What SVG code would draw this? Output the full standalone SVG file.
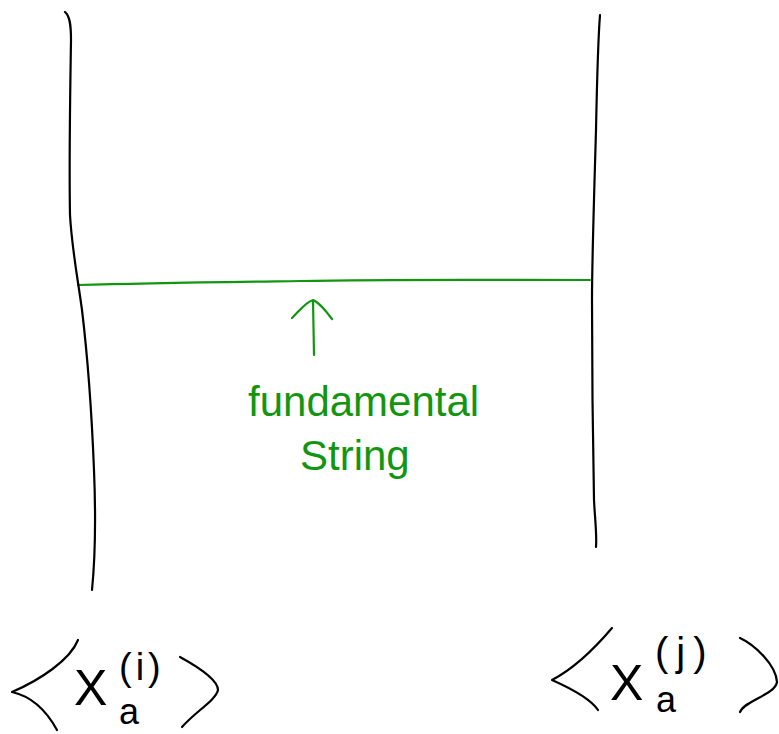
<svg xmlns="http://www.w3.org/2000/svg" width="779" height="734" viewBox="0 0 779 734">
<style>
.ink{fill:none;stroke:#000;stroke-width:2.2;stroke-linecap:round;stroke-linejoin:round}
.gr{fill:none;stroke:#129612;stroke-width:2.2;stroke-linecap:round;stroke-linejoin:round}
.gt{fill:#129612;font-family:"Liberation Sans",Arial,sans-serif;font-size:42px}
.bt{fill:#000;font-family:"Liberation Sans",Arial,sans-serif}
</style>
<rect width="779" height="734" fill="#fff"/>
<g id="connectors">
<path class="gr" d="M78,285 C150,283 230,282 300,281 C400,279 500,280 590,280"/>
<path class="gr" d="M314,355 L313,300 M292,318 C300,310 306,302 313,300 C320,303 326,311 332,319"/>
</g>
<g id="brane-i">
<path class="ink" d="M65,12 C70,16 71,25 71,40 C70,100 69,160 70,215 C72,250 78,280 82,310 C88,360 92,420 94,470 C96,520 95,560 92,590"/>
</g>
<g id="brane-j">
<path class="ink" d="M600,15 C598,40 597,80 596,130 C594,200 592,260 592,300 C592,380 593,450 594,500 C595,520 597,535 596,547"/>
</g>
<g id="label-string">
<text class="gt" x="248" y="416">fundamental</text>
<text class="gt" x="300" y="470">String</text>
</g>
<g id="label-i">
<path class="ink" d="M78,640 C70,660 40,680 12,692 C30,696 45,708 57,730"/>
<text class="bt" x="74" y="705" font-size="50">X</text>
<text class="bt" x="119" y="680" font-size="38" letter-spacing="4">(i)</text>
<text class="bt" x="119" y="724" font-size="36">a</text>
<path class="ink" d="M180,657 C200,668 218,680 218,690 C216,700 195,712 182,727"/>
</g>
<g id="label-j">
<path class="ink" d="M612,628 C595,648 575,668 552,680 C570,688 590,698 598,710"/>
<text class="bt" x="610" y="700" font-size="50">X</text>
<text class="bt" x="655" y="666" font-size="40" letter-spacing="8">(j)</text>
<text class="bt" x="656" y="712" font-size="36">a</text>
<path class="ink" d="M740,638 C755,645 776,665 777,682 C775,695 745,700 740,712"/>
</g>
</svg>
